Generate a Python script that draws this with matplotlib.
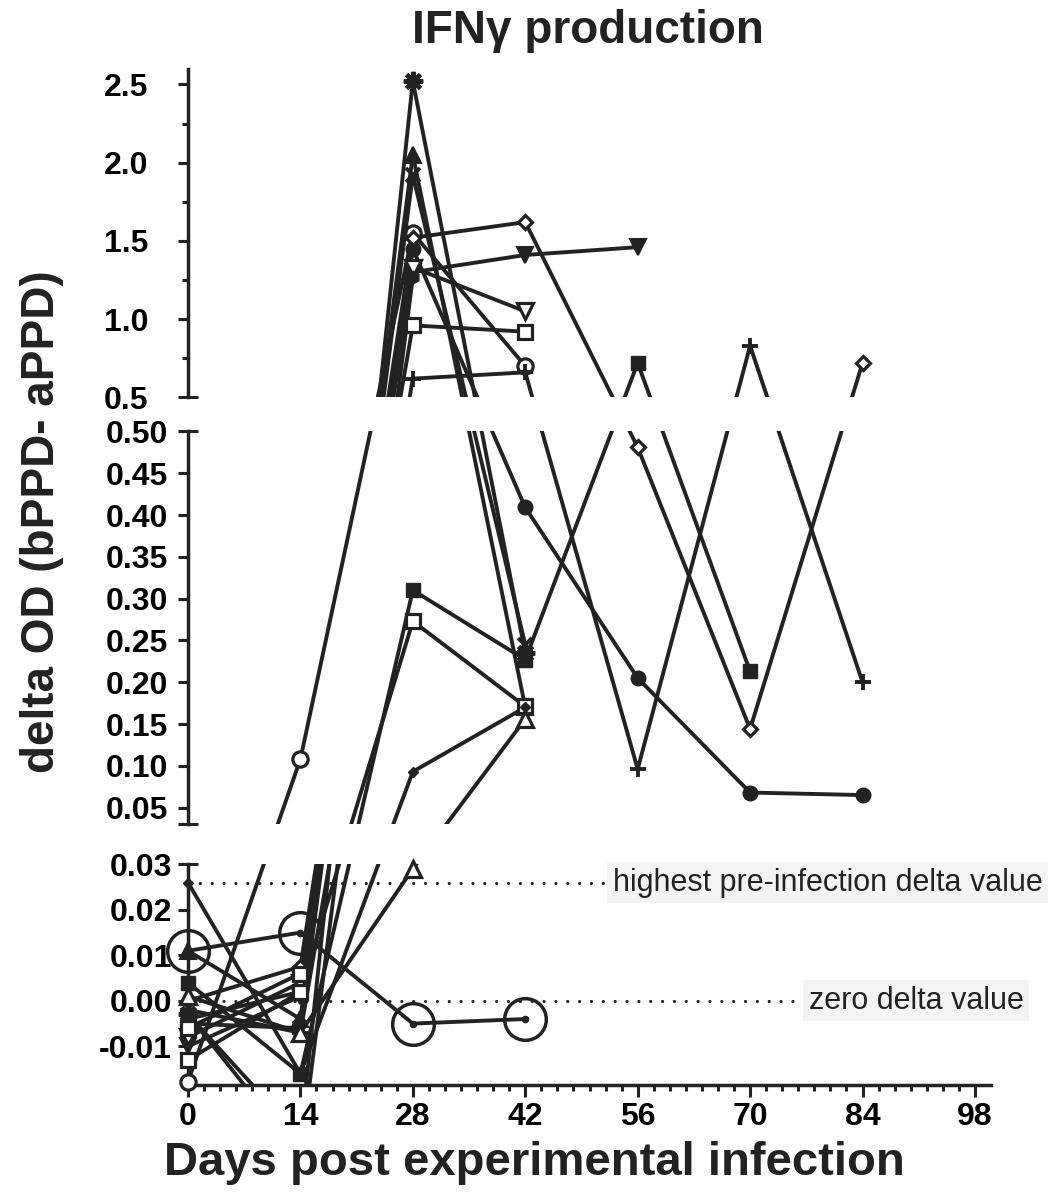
import numpy as np
import matplotlib
matplotlib.use("Agg")
import matplotlib.pyplot as plt

plt.rcParams['font.family'] = ['Liberation Sans', 'DejaVu Sans']

nan = np.nan

# sampling days
days = [0, 14, 28, 42, 56, 70, 84]

# delta OD per animal (nan = no sample)
asterisk     = [-0.003, -0.030, 2.52, 0.235, nan, nan, nan]
tri_filled   = [0.011, -0.004, 2.05, 0.170, nan, nan, nan]
cross_x      = [-0.005, -0.006, 1.92, 0.245, nan, nan, nan]
circle_open  = [-0.0178, 0.108, 1.55, 0.700, nan, nan, nan]
circle_fill  = [-0.004, 0.002, 1.45, 0.409, 0.205, 0.068, 0.065]
diamond_open = [0.000, 0.0075, 1.52, 1.62, 0.481, 0.144, 0.72]
tri_down     = [-0.010, 0.001, 1.30, 1.41, 1.46, nan, nan]
tri_down_op  = [-0.008, 0.004, 1.33, 1.05, nan, nan, nan]
square_open  = [-0.006, 0.006, 0.96, 0.92, nan, nan, nan]
plus         = [-0.002, -0.007, 0.62, 0.66, 0.096, 0.83, 0.20]
square_fill  = [0.004, -0.016, 0.31, 0.227, 0.72, 0.213, nan]
square_dot   = [-0.013, 0.002, 0.273, 0.171, nan, nan, nan]
diamond_fill = [0.026, -0.016, 0.093, 0.170, nan, nan, nan]
tri_open     = [0.001, -0.007, 0.029, 0.156, nan, nan, nan]
hexagon      = [-0.003, -0.034, 1.27, nan, nan, nan, nan]
highlighted  = [0.011, 0.015, -0.005, -0.004, nan, nan, nan]

x_ticks = [0, 14, 28, 42, 56, 70, 84, 98]
top_ticks = [0.5, 1.0, 1.5, 2.0, 2.5]
mid_ticks = [0.05, 0.10, 0.15, 0.20, 0.25, 0.30, 0.35, 0.40, 0.45, 0.50]
bot_ticks = [-0.01, 0.00, 0.01, 0.02, 0.03]
bot_labels = ['-0.01', '0.00', '0.01', '0.02', '0.03']

highest_pre = 0.026

INK = '#222222'
W = 'white'
series = [
    (asterisk, dict(marker=(8, 2, 0), ms=14, mfc=INK, mec=INK, mew=3)),
    (tri_filled, dict(marker='^', ms=11, mfc=INK, mec=INK, mew=1.5)),
    (cross_x, dict(marker='x', ms=10, mfc=INK, mec=INK, mew=2.8)),
    (circle_open, dict(marker='o', ms=11, mfc=W, mec=INK, mew=2.3)),
    (circle_fill, dict(marker='o', ms=10.5, mfc=INK, mec=INK, mew=1)),
    (diamond_open, dict(marker='D', ms=7.5, mfc=W, mec=INK, mew=2.3)),
    (tri_down, dict(marker='v', ms=11, mfc=INK, mec=INK, mew=1.5)),
    (tri_down_op, dict(marker='v', ms=11, mfc=W, mec=INK, mew=2.3)),
    (square_open, dict(marker='s', ms=10, mfc=W, mec=INK, mew=2.3)),
    (plus, dict(marker='+', ms=12, mfc=INK, mec=INK, mew=2.8)),
    (square_fill, dict(marker='s', ms=10.5, mfc=INK, mec=INK, mew=1)),
    (square_dot, dict(marker='s', ms=10, mfc=W, mec=INK, mew=2.3)),
    (diamond_fill, dict(marker='D', ms=5.5, mfc=INK, mec=INK, mew=1)),
    (tri_open, dict(marker='^', ms=11, mfc=W, mec=INK, mew=2.3)),
    (hexagon, dict(marker='h', ms=9, mfc=INK, mec=INK, mew=1)),
    (highlighted, dict(marker='o', ms=4.5, mfc=INK, mec=INK, mew=1)),
]

# three axis segments, pixel scale of each (Prism style broken axis)
B_LO, B_HI = -0.0185, 0.03
M_LO, M_HI = 0.03, 0.50
T_LO, T_HI = 0.5, 2.6
KB, KM, KT = 4550.0, 836.0, 156.5
GAP1, GAP2 = 40.0, 34.0
HB = (B_HI - B_LO) * KB
HM = (M_HI - M_LO) * KM
HT = (T_HI - T_LO) * KT
OFF_M = HB + GAP1
OFF_T = OFF_M + HM + GAP2


def make_scale(owner):
    def fwd(y):
        y = np.asarray(y, dtype=float)
        if owner == 'bottom':
            in_b = y <= B_HI
            in_t = y > M_HI
        elif owner == 'middle':
            in_b = y < M_LO
            in_t = y > M_HI
        else:
            in_b = y < M_LO
            in_t = y >= T_LO
        return np.where(in_b, (y - B_LO) * KB,
                        np.where(in_t, OFF_T + (y - T_LO) * KT,
                                 OFF_M + (y - M_LO) * KM))

    def inv(v):
        v = np.asarray(v, dtype=float)
        yb = B_LO + np.minimum(v, HB) / KB
        ym = M_LO + np.clip(v - OFF_M, 0, HM) / KM
        yt = T_LO + np.maximum(v - OFF_T, 0) / KT
        return np.where(v < OFF_M, yb, np.where(v < OFF_T, ym, yt))
    return fwd, inv


FW, FH = 1062, 1197
fig = plt.figure(figsize=(FW / 100, FH / 100), dpi=100)
left = 188 / FW
width = 803 / FW
base = (FH - 1085) / FH
ax_b = fig.add_axes([left, base, width, HB / FH])
ax_m = fig.add_axes([left, base + OFF_M / FH, width, HM / FH])
ax_t = fig.add_axes([left, base + OFF_T / FH, width, HT / FH])

panels = [(ax_b, 'bottom', B_LO, B_HI), (ax_m, 'middle', M_LO, M_HI), (ax_t, 'top', T_LO, T_HI)]


def panel_of(v):
    if v <= B_HI:
        return 0
    if v <= M_HI:
        return 1
    return 2


for k, (ax, owner, lo, hi) in enumerate(panels):
    ax.set_yscale('function', functions=make_scale(owner))
    if owner == 'middle':
        ax.set_ylim(lo + 1e-9, hi)
    else:
        ax.set_ylim(lo, hi)
    ax.set_xlim(0, 100)
    for s in ['top', 'right']:
        ax.spines[s].set_visible(False)
    ax.spines['left'].set_linewidth(2.5)
    ax.spines['left'].set_color(INK)
    ax.patch.set_alpha(0)

    # lines: a segment shows in the segments of its two end points
    for vals, st in series:
        for i in range(len(days) - 1):
            y0, y1 = vals[i], vals[i + 1]
            if np.isnan(y0) or np.isnan(y1):
                continue
            if k in (panel_of(y0), panel_of(y1)):
                ax.plot(days[i:i + 2], [y0, y1], color=INK, lw=2.8,
                        solid_capstyle='round', zorder=2)
    for vals, st in series:
        v = np.asarray(vals)
        ok = (v >= lo) & (v <= hi)
        d = np.asarray(days)[ok]
        ax.plot(d, v[ok], ls='none', clip_on=False, zorder=3, **st)
        if vals is highlighted:
            ax.plot(d, v[ok], ls='none', marker='o', ms=30, mfc='none',
                    mec=INK, mew=2.5, clip_on=False, zorder=3)

# y ticks
ax_t.set_yticks(top_ticks)
ax_t.set_yticklabels(['%.1f' % t for t in top_ticks])
ax_t.set_yticks([0.75, 1.25, 1.75, 2.25], minor=True)
ax_t.tick_params(axis='y', which='minor', width=2.2, length=4.5, color=INK)
ax_m.set_yticks(mid_ticks)
ax_m.set_yticklabels(['%.2f' % t for t in mid_ticks])
ax_m.set_yticks([], minor=True)
ax_b.set_yticks(bot_ticks)
ax_b.set_yticklabels(bot_labels)
ax_b.set_yticks([], minor=True)
for ax, pad in ((ax_t, 21), (ax_m, 7), (ax_b, 4)):
    ax.tick_params(axis='y', which='major', labelsize=23, width=2.2, length=7.5,
                   color=INK, pad=pad)
    for lab in ax.get_yticklabels():
        lab.set_fontweight('bold')

for ax in (ax_t, ax_m):
    ax.spines['bottom'].set_visible(False)
    ax.set_xticks([])

# caps at the segment ends
cap = dict(color=INK, lw=2.2, clip_on=False, solid_capstyle='butt')
ax_t.plot([0, 0.0125], [0, 0], transform=ax_t.transAxes, **cap)
ax_m.plot([0, 0.0125], [1, 1], transform=ax_m.transAxes, **cap)
ax_m.plot([-0.0125, 0.0125], [0, 0], transform=ax_m.transAxes, **cap)
ax_b.plot([0, 0.0125], [1, 1], transform=ax_b.transAxes, **cap)

# x axis
ax_b.spines['bottom'].set_linewidth(2.5)
ax_b.spines['bottom'].set_color(INK)
ax_b.set_xticks(x_ticks)
ax_b.set_xticks(np.arange(2, 100, 2), minor=True)
ax_b.tick_params(axis='x', which='major', labelsize=23, width=2.2, length=8.5,
                 color=INK, pad=4)
ax_b.tick_params(axis='x', which='minor', width=2.2, length=4, color=INK)
for lab in ax_b.get_xticklabels():
    lab.set_fontweight('bold')

# reference lines
dots = dict(color=INK, lw=2.3, ls=(0, (0.01, 3.7)), dash_capstyle='round', zorder=1.5)
ax_b.plot([0, 52], [highest_pre, highest_pre], **dots)
ax_b.plot([0, 76], [0, 0], **dots)
box = dict(facecolor='#f4f4f4', edgecolor='none', pad=4)
ax_b.text(52.9, highest_pre, 'highest pre-infection delta value', fontsize=22,
          ha='left', va='center', color=INK, bbox=box, zorder=4, clip_on=False)
ax_b.text(77.3, 0.0, 'zero delta value', fontsize=22, ha='left', va='center',
          color=INK, bbox=box, zorder=4, clip_on=False)

fig.text(588 / FW, 1 - 31 / FH, 'IFN\u03b3 production', ha='center', va='center',
         fontsize=33, fontweight='bold', color=INK)
fig.text(42 / FW, 1 - 522 / FH, 'delta OD (bPPD- aPPD)', ha='center', va='center',
         rotation=90, fontsize=33, fontweight='bold', color=INK)
fig.text(534 / FW, 1 - 1163 / FH, 'Days post experimental infection', ha='center',
         va='center', fontsize=34, fontweight='bold', color=INK)

fig.savefig('out.png', dpi=100)
